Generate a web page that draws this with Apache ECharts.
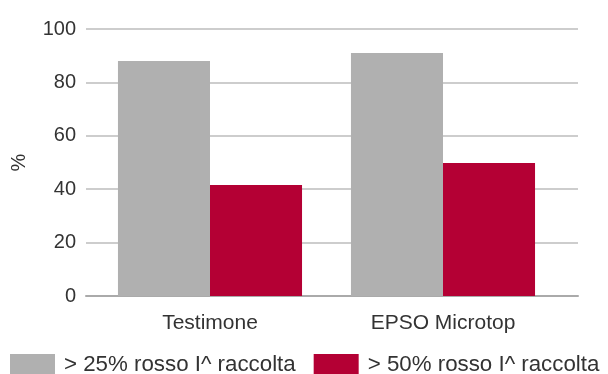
<!DOCTYPE html>
<html>
<head>
<meta charset="utf-8">
<script src="https://cdn.jsdelivr.net/npm/echarts@6/dist/echarts.min.js"></script>
<style>
html, body { margin: 0; padding: 0; background: #fff; }
#chart { width: 608px; height: 374px; }
</style>
</head>
<body>
<div id="chart"></div>
<script>
var categories = ['Testimone', 'EPSO Microtop'];
var seriesNames = ['> 25% rosso I^ raccolta', '> 50% rosso I^ raccolta'];
var over25 = [88, 91];
var over50 = [41.6, 49.8];

var font = '"Liberation Sans", Arial, Helvetica, sans-serif';
var myChart = echarts.init(document.getElementById('chart'));
var option = {
    animation: false,
    textStyle: { fontFamily: font },
    legend: {
        left: 10,
        top: 354,
        padding: 0,
        itemWidth: 45,
        itemHeight: 22,
        itemGap: 18,
        icon: 'rect',
        textStyle: { fontSize: 22.3, color: '#333', fontFamily: font, padding: [0, 0, 0, 4] },
        data: seriesNames
    },
    // grid 0: gridlines and y labels, grid 1: the bars (slightly narrower)
    grid: [
        { left: 86, right: 30, top: 29, bottom: 78, outerBoundsMode: 'none' },
        { left: 93.5, right: 48.5, top: 29, bottom: 78, outerBoundsMode: 'none' }
    ],
    xAxis: [
        {
            gridIndex: 0,
            type: 'value',
            min: 0,
            max: 1,
            axisLine: { show: true, lineStyle: { color: '#aaaaaa', width: 2 } },
            axisTick: { show: false },
            axisLabel: { show: false },
            splitLine: { show: false }
        },
        {
            gridIndex: 1,
            type: 'category',
            data: categories,
            axisLine: { show: false },
            axisTick: { show: false },
            axisLabel: { fontSize: 21, color: '#333', margin: 17, fontFamily: font }
        }
    ],
    yAxis: [
        {
            gridIndex: 0,
            type: 'value',
            min: 0,
            max: 100,
            interval: 20,
            name: '%',
            nameLocation: 'middle',
            nameRotate: 90,
            nameGap: 57,
            nameTextStyle: { fontSize: 20, color: '#333', fontFamily: font },
            axisLine: { show: false },
            axisTick: { show: false },
            axisLabel: { fontSize: 20, color: '#333', margin: 10, fontFamily: font },
            splitLine: { lineStyle: { color: '#bcbcbc', width: 1.5 } }
        },
        {
            gridIndex: 1,
            type: 'value',
            min: 0,
            max: 100,
            show: false
        }
    ],
    series: [
        {
            name: seriesNames[0],
            type: 'bar',
            xAxisIndex: 1,
            yAxisIndex: 1,
            data: over25,
            barGap: '0%',
            barCategoryGap: '21%',
            itemStyle: { color: '#b0b0b0' }
        },
        {
            name: seriesNames[1],
            type: 'bar',
            xAxisIndex: 1,
            yAxisIndex: 1,
            data: over50,
            barGap: '0%',
            barCategoryGap: '21%',
            itemStyle: { color: '#b40034' }
        }
    ]
};
myChart.setOption(option, true);
</script>
</body>
</html>
